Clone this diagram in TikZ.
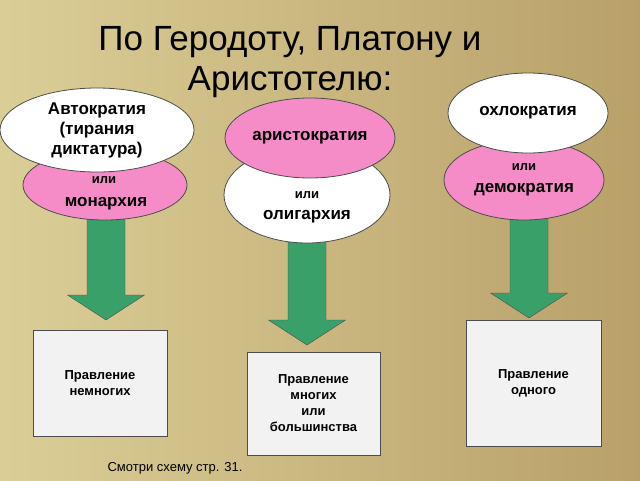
\documentclass[tikz,border=0pt]{standalone}
\usepackage{fontspec}
\setmainfont{Liberation Sans}
\usetikzlibrary{shapes.geometric}

\definecolor{pinkfill}{RGB}{245,140,200}
\definecolor{greenarr}{RGB}{58,160,105}
\definecolor{bgleft}{RGB}{218,206,150}
\definecolor{bgright}{RGB}{185,160,105}

% block arrow: centre x, top y, tip y
\newcommand{\blockarrow}[3]{%
  \draw[downarrow] (#1-19,#2) -- (#1-19,#3-25) -- (#1-38.5,#3-25) -- (#1,#3)
    -- (#1+38.5,#3-25) -- (#1+19,#3-25) -- (#1+19,#2) -- cycle;}

\tikzset{
  oval/.style={ellipse, draw=black!70, thick, inner sep=0pt, align=center, font=\bfseries\fontsize{17}{20}\selectfont},
  pinkoval/.style={oval, fill=pinkfill},
  whiteoval/.style={oval, fill=white},
  ortext/.style={font=\bfseries\fontsize{13}{16}\selectfont},
  bigtext/.style={font=\bfseries\fontsize{17}{20}\selectfont},
  downarrow/.style={draw=black!70, fill=greenarr, line join=miter},
  rulebox/.style={draw=black!70, fill=black!5, align=center, inner sep=0pt,
    font=\bfseries\fontsize{13}{16}\selectfont}
}

\begin{document}
\begin{tikzpicture}[x=1pt,y=-1pt]
  \useasboundingbox (0,0) rectangle (640,480);
  \shade[left color=bgleft, right color=bgright] (0,0) rectangle (640,480);
  % title
  \node[align=center, font=\fontsize{35}{40}\selectfont] (title) at (290,62)
    {По Геродоту, Платону и\\Аристотелю:};
  % arrows
  \blockarrow{106}{215}{320}
  \blockarrow{307}{240}{345}
  \blockarrow{529}{215}{318}
  % left group
  \node[pinkoval, minimum width=164pt, minimum height=70pt] (monarch) at (105,185) {};
  \node[ortext] at (104,180) {или};
  \node[bigtext] at (106,204) {монархия};
  \node[whiteoval, minimum width=194pt, minimum height=84pt] (autocr) at (97,130)
    {Автократия\\(тирания\\ диктатура)};
  % middle group
  \node[whiteoval, minimum width=166pt, minimum height=96pt] (oligarch) at (307,195) {};
  \node[ortext] at (307,195) {или};
  \node[bigtext] at (307,217) {олигархия};
  \node[pinkoval, minimum width=170pt, minimum height=80pt] (aristocr) at (310,138) {аристократия};
  % right group
  \node[pinkoval, minimum width=160pt, minimum height=80pt] (democr) at (524,180) {};
  \node[ortext] at (524,167) {или};
  \node[bigtext] at (524,190) {демократия};
  \node[whiteoval, minimum width=160pt, minimum height=80pt] (ochlocr) at (528,113) {охлократия};
  % boxes
  \node[rulebox, minimum width=134pt, minimum height=106pt] (few) at (100,383) {Правление\\немногих};
  \node[rulebox, minimum width=133pt, minimum height=103pt] (many) at (313.5,403.5)
    {Правление\\многих\\или\\большинства};
  \node[rulebox, minimum width=135pt, minimum height=126pt] (one) at (533.5,383) {Правление\\одного};
  % footer
  \node[font=\fontsize{13}{16}\selectfont] (footer) at (175,468) {Смотри схему стр. 31.};
\end{tikzpicture}
\end{document}
